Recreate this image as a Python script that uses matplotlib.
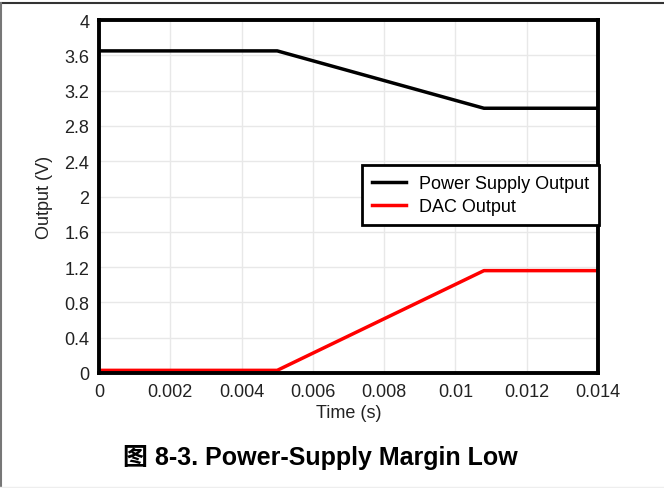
import matplotlib.pyplot as plt
from matplotlib.lines import Line2D

plt.rcParams['font.family'] = ['Liberation Sans', 'Noto Sans CJK SC', 'DejaVu Sans']

# data
t_supply = [0.0, 0.005, 0.0108, 0.014]
v_supply = [3.65, 3.65, 3.0, 3.0]
t_dac = [0.0, 0.005, 0.0108, 0.014]
v_dac = [0.03, 0.03, 1.16, 1.16]
xticks = [0, 0.002, 0.004, 0.006, 0.008, 0.01, 0.012, 0.014]
xtick_labels = ['0', '0.002', '0.004', '0.006', '0.008', '0.01', '0.012', '0.014']
yticks = [0, 0.4, 0.8, 1.2, 1.6, 2, 2.4, 2.8, 3.2, 3.6, 4]
ytick_labels = ['0', '0.4', '0.8', '1.2', '1.6', '2', '2.4', '2.8', '3.2', '3.6', '4']

fig = plt.figure(figsize=(6.64, 4.89), dpi=100)
ax = fig.add_axes([99 / 664, 1 - 374 / 489, 499 / 664, 353 / 489])

ax.plot(t_supply, v_supply, color='black', lw=2.5, label='Power Supply Output')
ax.plot(t_dac, v_dac, color='#ff0000', lw=2.5, label='DAC Output')

ax.set_xlim(0, 0.014)
ax.set_ylim(0, 4)
ax.set_xticks(xticks)
ax.set_xticklabels(xtick_labels)
ax.set_yticks(yticks)
ax.set_yticklabels(ytick_labels)
ax.tick_params(length=0, labelsize=13, colors='#222222', pad=7)
ax.grid(True, color='#e8e8e8', lw=1)
ax.set_axisbelow(True)
for s in ax.spines.values():
    s.set_linewidth(2.8)
    s.set_color('black')

ax.set_xlabel('Time (s)', fontsize=13, color='#222222', labelpad=3)
ax.set_ylabel('Output (V)', fontsize=13, color='#222222', labelpad=8)

leg = ax.legend(loc='upper right', bbox_to_anchor=(1.002, 0.589), fontsize=13,
                frameon=True, fancybox=False, borderpad=0.55, handlelength=1.9,
                handletextpad=0.7, labelspacing=0.35, borderaxespad=0)
leg.get_frame().set_edgecolor('black')
leg.get_frame().set_linewidth(2.0)
leg.get_frame().set_alpha(1)

fig.text(320.5 / 664, 1 - 458 / 489, '图 8-3. Power-Supply Margin Low', ha='center', va='center',
         fontsize=18, fontweight='bold')

# page frame: dark top, gray left, light bottom
fig.add_artist(Line2D([0, 1], [1 - 3.5 / 489] * 2, transform=fig.transFigure,
                      color='#333333', lw=1.5))
fig.add_artist(Line2D([1 / 664] * 2, [1 - 488 / 489, 1 - 3.5 / 489], transform=fig.transFigure,
                      color='#777777', lw=1.5))
fig.add_artist(Line2D([0, 1], [1 - 487.5 / 489] * 2, transform=fig.transFigure,
                      color='#eeeeee', lw=1))

fig.savefig('out.png', dpi=100)
